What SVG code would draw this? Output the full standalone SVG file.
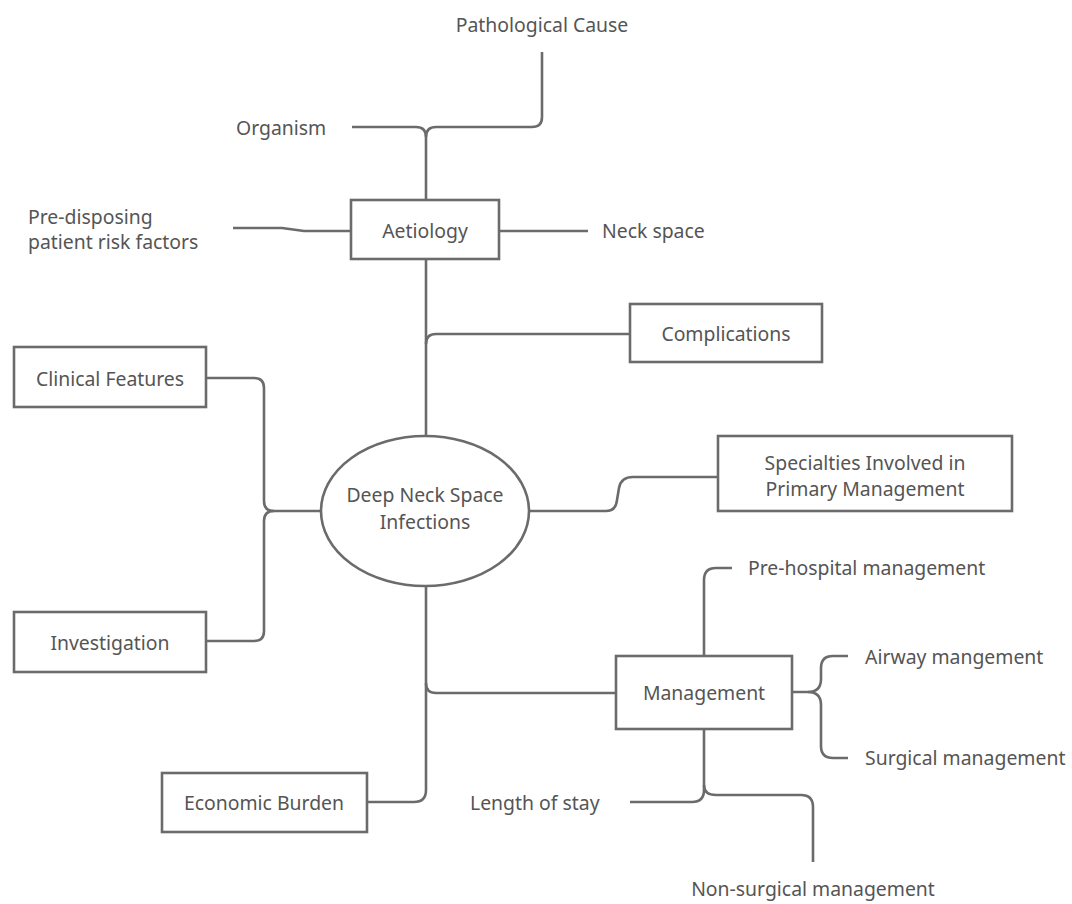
<svg xmlns="http://www.w3.org/2000/svg" width="1072" height="904" viewBox="0 0 1072 904">
<style>
.c{fill:none;stroke:#6b6b6b;stroke-width:2.6;stroke-linejoin:round}
.b{fill:#fff;stroke:#6b6b6b;stroke-width:2.6}
text{font-family:"Noto Sans","Open Sans","DejaVu Sans",sans-serif;font-size:19.4px;fill:#555;dominant-baseline:central}
.m{text-anchor:middle}
</style>
<rect width="1072" height="904" fill="#fff"/>
<g id="connectors">
<path class="c" d="M542,52 V117 Q542,127 532,127 H436 Q426,127 426,137 V200"/>
<path class="c" d="M352,127 H416 Q426,127 426,137"/>
<path class="c" d="M233,228 H282 L304,231 H351"/>
<path class="c" d="M499,231 H588"/>
<path class="c" d="M426,259 V436"/>
<path class="c" d="M426,344 Q426,334 436,334 H630"/>
<path class="c" d="M530,511 H606 Q616,511 617,500 L619,488 Q621,477 633,477 H718"/>
<path class="c" d="M206,378 H254 Q264,378 264,388 V501 Q264,511 274,511 H321"/>
<path class="c" d="M206,641 H254 Q264,641 264,631 V521 Q264,511 274,511"/>
<path class="c" d="M426,587 V790 Q426,802 414,802 H367"/>
<path class="c" d="M426,683 Q426,693 436,693 H616"/>
<path class="c" d="M704,656 V580 Q704,568 716,568 H732"/>
<path class="c" d="M792,692 H808 Q821,692 821,679 V668 Q821,656 833,656 H848"/>
<path class="c" d="M808,692 Q821,692 821,705 V746 Q821,758 833,758 H848"/>
<path class="c" d="M704,729 V790 Q704,802 692,802 H630"/>
<path class="c" d="M704,785 Q704,795 716,795 H801 Q813,795 813,807 V862"/>
</g>
<g id="pathological"><text x="542" y="24" class="m">Pathological Cause</text></g>
<g id="organism"><text x="236" y="127">Organism</text></g>
<g id="predisposing"><text x="28" y="216">Pre-disposing</text><text x="28" y="241">patient risk factors</text></g>
<g id="aetiology"><rect class="b" x="351" y="200" width="148" height="59"/><text x="425" y="230" class="m">Aetiology</text></g>
<g id="neckspace"><text x="602" y="230">Neck space</text></g>
<g id="complications"><rect class="b" x="630" y="304" width="192" height="58"/><text x="726" y="333" class="m">Complications</text></g>
<g id="clinical"><rect class="b" x="14" y="347" width="192" height="60"/><text x="110" y="378" class="m">Clinical Features</text></g>
<g id="center"><ellipse class="b" cx="425" cy="511" rx="104" ry="75"/><text x="425" y="494" class="m">Deep Neck Space</text><text x="425" y="521" class="m">Infections</text></g>
<g id="specialties"><rect class="b" x="718" y="436" width="294" height="75"/><text x="865" y="462" class="m">Specialties Involved in</text><text x="865" y="488" class="m">Primary Management</text></g>
<g id="investigation"><rect class="b" x="14" y="612" width="192" height="60"/><text x="110" y="642" class="m">Investigation</text></g>
<g id="management"><rect class="b" x="616" y="656" width="176" height="73"/><text x="704" y="692" class="m">Management</text></g>
<g id="prehospital"><text x="748" y="567">Pre-hospital management</text></g>
<g id="airway"><text x="865" y="656">Airway mangement</text></g>
<g id="surgical"><text x="865" y="757">Surgical management</text></g>
<g id="economic"><rect class="b" x="162" y="773" width="205" height="59"/><text x="264" y="802" class="m">Economic Burden</text></g>
<g id="lengthofstay"><text x="470" y="802">Length of stay</text></g>
<g id="nonsurgical"><text x="813" y="888" class="m">Non-surgical management</text></g>
</svg>
